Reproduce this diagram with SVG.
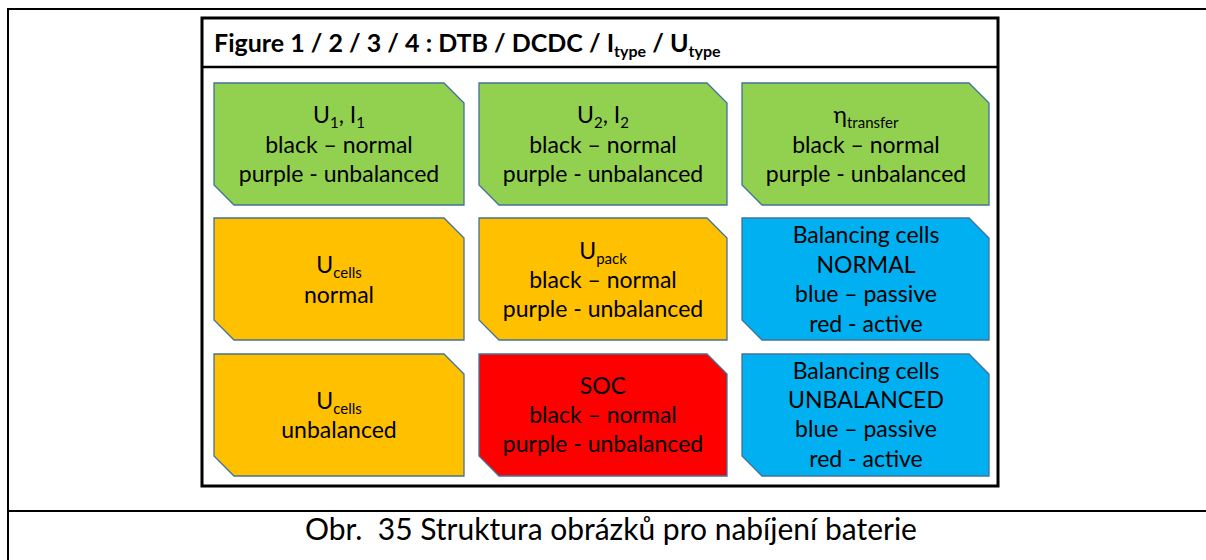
<svg xmlns="http://www.w3.org/2000/svg" width="1206" height="560" viewBox="0 0 1206 560">
  <style>
    .frame { fill: none; stroke: #000; stroke-width: 2; }
    .box { fill: #fff; stroke: #000; stroke-width: 3; }
    .node { stroke: #41719C; stroke-width: 1.3; }
    .green { fill: #92D050; }
    .orange { fill: #FFC000; }
    .red { fill: #FF0000; }
    .blue { fill: #00B0F0; }
    .lbl { font-family: Lato, "Liberation Sans", sans-serif; font-size: 23px; fill: #000; text-anchor: middle; }
    .sub { font-size: 15px; }
    .title { font-family: Lato, "Liberation Sans", sans-serif; font-size: 25px; font-weight: bold; fill: #000; }
    .tsub { font-size: 16px; }
    .caption { font-family: Lato, "Liberation Sans", sans-serif; font-size: 30px; fill: #000; text-anchor: middle; }
  </style>

  <rect width="1206" height="560" fill="#fff"/>

  <!-- outer table frame -->
  <g id="frame">
    <path class="frame" d="M8,560 V9 H1206"/>
    <path class="frame" d="M8,511 H1206"/>
  </g>

  <!-- figure box with title row -->
  <g id="figure-box">
    <rect class="box" x="202" y="18" width="796" height="468"/>
    <path d="M202,67 H998" stroke="#000" stroke-width="2.5"/>
    <text class="title" x="214" y="52">Figure 1 / 2 / 3 / 4 : DTB / DCDC / I<tspan class="tsub" dy="5">type</tspan><tspan dy="-5"> / U</tspan><tspan class="tsub" dy="5">type</tspan></text>
  </g>

  <!-- row 1 -->
  <g id="node-u1i1">
    <path class="node green" d="M214,83 H444 L464,103 V205 H234 L214,185 Z"/>
    <text class="lbl" x="339" y="123">U<tspan class="sub" dy="5">1</tspan><tspan dy="-5">, I</tspan><tspan class="sub" dy="5">1</tspan></text>
    <text class="lbl" x="339" y="153">black – normal</text>
    <text class="lbl" x="339" y="182">purple - unbalanced</text>
  </g>
  <g id="node-u2i2">
    <path class="node green" d="M479,83 H707 L727,103 V205 H499 L479,185 Z"/>
    <text class="lbl" x="603" y="123">U<tspan class="sub" dy="5">2</tspan><tspan dy="-5">, I</tspan><tspan class="sub" dy="5">2</tspan></text>
    <text class="lbl" x="603" y="153">black – normal</text>
    <text class="lbl" x="603" y="182">purple - unbalanced</text>
  </g>
  <g id="node-eta">
    <path class="node green" d="M742,83 H969 L989,103 V205 H762 L742,185 Z"/>
    <text class="lbl" x="866" y="123">η<tspan class="sub" dy="5">transfer</tspan></text>
    <text class="lbl" x="866" y="153">black – normal</text>
    <text class="lbl" x="866" y="182">purple - unbalanced</text>
  </g>

  <!-- row 2 -->
  <g id="node-ucells-normal">
    <path class="node orange" d="M214,218 H444 L464,238 V340 H234 L214,320 Z"/>
    <text class="lbl" x="339" y="273">U<tspan class="sub" dy="5">cells</tspan></text>
    <text class="lbl" x="339" y="303">normal</text>
  </g>
  <g id="node-upack">
    <path class="node orange" d="M479,218 H707 L727,238 V340 H499 L479,320 Z"/>
    <text class="lbl" x="603" y="259">U<tspan class="sub" dy="5">pack</tspan></text>
    <text class="lbl" x="603" y="288">black – normal</text>
    <text class="lbl" x="603" y="317">purple - unbalanced</text>
  </g>
  <g id="node-balancing-normal">
    <path class="node blue" d="M742,218 H969 L989,238 V340 H762 L742,320 Z"/>
    <text class="lbl" x="866" y="243">Balancing cells</text>
    <text class="lbl" x="866" y="273">NORMAL</text>
    <text class="lbl" x="866" y="302">blue – passive</text>
    <text class="lbl" x="866" y="332">red - active</text>
  </g>

  <!-- row 3 -->
  <g id="node-ucells-unbalanced">
    <path class="node orange" d="M214,354 H444 L464,374 V476 H234 L214,456 Z"/>
    <text class="lbl" x="339" y="409">U<tspan class="sub" dy="5">cells</tspan></text>
    <text class="lbl" x="339" y="438">unbalanced</text>
  </g>
  <g id="node-soc">
    <path class="node red" d="M479,354 H707 L727,374 V476 H499 L479,456 Z"/>
    <text class="lbl" x="603" y="394">SOC</text>
    <text class="lbl" x="603" y="423">black – normal</text>
    <text class="lbl" x="603" y="452">purple - unbalanced</text>
  </g>
  <g id="node-balancing-unbalanced">
    <path class="node blue" d="M742,354 H969 L989,374 V476 H762 L742,456 Z"/>
    <text class="lbl" x="866" y="379">Balancing cells</text>
    <text class="lbl" x="866" y="408">UNBALANCED</text>
    <text class="lbl" x="866" y="437">blue – passive</text>
    <text class="lbl" x="866" y="467">red - active</text>
  </g>

  <!-- no connectors in this figure -->
  <g id="connectors"/>

  <!-- caption -->
  <text class="caption" x="611" y="540" xml:space="preserve">Obr.  35 Struktura obrázků pro nabíjení baterie</text>
</svg>
